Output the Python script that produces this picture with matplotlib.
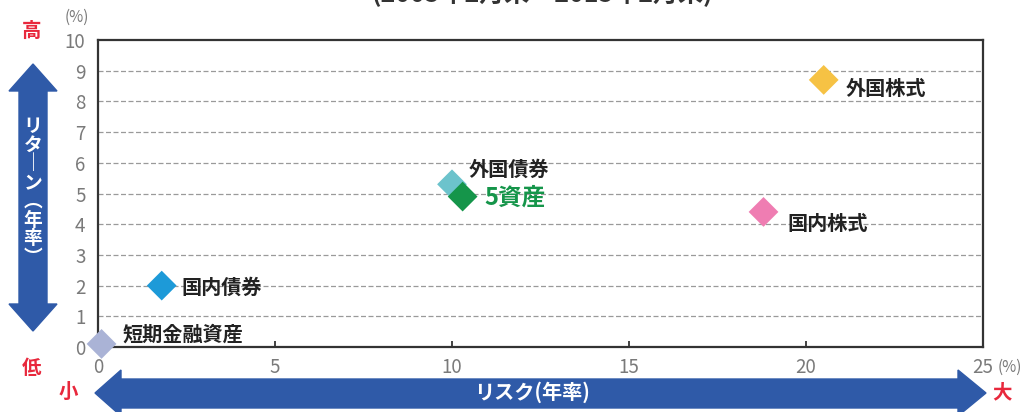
import matplotlib
matplotlib.use("Agg")
import matplotlib.pyplot as plt
from matplotlib.patches import Polygon

plt.rcParams["font.family"] = ["Noto Sans CJK JP", "DejaVu Sans"]

# data
assets = ["短期金融資産", "国内債券", "外国債券", "5資産", "国内株式", "外国株式"]
risk = [0.1, 1.8, 10.0, 10.3, 18.8, 20.5]
ret = [0.1, 2.0, 5.3, 4.9, 4.4, 8.7]
colors = ["#aab3d6", "#1d9ad8", "#6cc3cc", "#15954a", "#ef7db2", "#f6c244"]
label_offsets = [(15, 7), (14, -1), (12, 11), (16, -1), (17, -8), (16, -6)]

x_ticks = [0, 5, 10, 15, 20, 25]
y_ticks = list(range(0, 11))
title = "(2005年2月末～2015年2月末)"

W, H = 1033, 412
fig = plt.figure(figsize=(W / 100, H / 100), dpi=100)

# background layer in pixel coordinates for the arrows and side labels
bg = fig.add_axes([0, 0, 1, 1], zorder=0)
bg.set_xlim(0, W)
bg.set_ylim(H, 0)
bg.axis("off")

blue = "#2f5aa8"
v_arrow = [(33, 64), (57, 91), (47, 91), (47, 304), (57, 304), (33, 331),
           (9, 304), (19, 304), (19, 91), (9, 91)]
h_arrow = [(95, 393), (121, 370), (121, 379), (958, 379), (958, 370),
           (986, 393), (958, 416), (958, 408), (121, 408), (121, 416)]
bg.add_patch(Polygon(v_arrow, closed=True, color=blue))
bg.add_patch(Polygon(h_arrow, closed=True, color=blue))

bg.text(33, 192, "\n".join(["リ", "タ", "｜", "ン", "︵", "年", "率", "︶"]),
        color="white", fontsize=13.5, fontweight="bold", ha="center",
        va="center", linespacing=0.98)
bg.text(532, 392, "リスク(年率)", color="white", fontsize=14.5,
        fontweight="bold", ha="center", va="center")

red = "#e8283c"
for x, y, s in [(32, 31, "高"), (32, 368, "低"), (68, 392, "小"), (1002, 393, "大")]:
    bg.text(x, y, s, color=red, fontsize=14, fontweight="bold", ha="center", va="center")
bg.text(77, 17, "(%)", color="#7a7a7a", fontsize=11, ha="center", va="center")
bg.text(1010, 367, "(%)", color="#7a7a7a", fontsize=11, ha="center", va="center")

fig.text(0.525, 1.0 + 6 / H, title, fontsize=18, fontweight="bold",
         color="#333333", ha="center", va="center")

ax = fig.add_axes([98 / W, 1 - 347 / H, (983 - 98) / W, (347 - 40) / H], zorder=1)
ax.patch.set_alpha(0)
ax.set_xlim(0, 25)
ax.set_ylim(0, 10)
ax.set_xticks(x_ticks)
ax.set_yticks(y_ticks)
ax.tick_params(axis="x", direction="in", length=4, width=1.2, colors="#222222",
               labelcolor="#7a7a7a", labelsize=13.5, pad=7)
ax.tick_params(axis="y", length=0, labelcolor="#7a7a7a", labelsize=13.5, pad=9)
for s in ax.spines.values():
    s.set_linewidth(1.6)
    s.set_color("#333333")

for yv in y_ticks[1:-1]:
    ax.axhline(yv, color="#9a9a9a", linewidth=0.9, linestyle=(0, (4, 2)), zorder=1)

for i, name in enumerate(assets):
    ax.scatter(risk[i], ret[i], marker="D", s=230, color=colors[i],
               edgecolors="none", zorder=3 + i, clip_on=False)
    big = name == "5資産"
    ax.annotate(name, (risk[i], ret[i]), xytext=label_offsets[i],
                textcoords="offset points", ha="left", va="center",
                fontsize=17 if big else 14.5, fontweight="bold",
                color=colors[i] if big else "#222222", zorder=10)

fig.savefig("out.png", dpi=100)
